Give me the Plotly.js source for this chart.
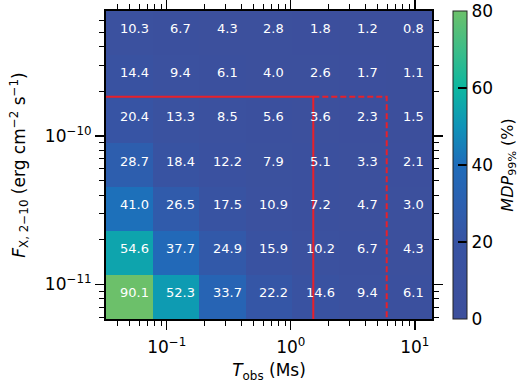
<!DOCTYPE html>
<html><head><meta charset="utf-8">
<script src="https://cdn.plot.ly/plotly-3.0.1.min.js"></script>
<style>html,body{margin:0;padding:0;background:#fff}#chart{width:521px;height:383px}</style>
</head><body><div id="chart"></div>
<script>
// Observation-time bin edges (Ms) and flux bin edges (erg cm^-2 s^-1)
const tObsEdges = [0.0324, 0.0769, 0.1824, 0.4335, 1.028, 2.443, 5.81, 13.77];
const fluxEdges = [5.83e-12, 1.156e-11, 2.29e-11, 4.53e-11, 8.97e-11, 1.78e-10, 3.52e-10, 6.97e-10];
// MDP99% values, rows from lowest flux to highest flux
const mdpRow0 = [90.1, 52.3, 33.7, 22.2, 14.6, 9.4, 6.1];
const mdpRow1 = [54.6, 37.7, 24.9, 15.9, 10.2, 6.7, 4.3];
const mdpRow2 = [41.0, 26.5, 17.5, 10.9, 7.2, 4.7, 3.0];
const mdpRow3 = [28.7, 18.4, 12.2, 7.9, 5.1, 3.3, 2.1];
const mdpRow4 = [20.4, 13.3, 8.5, 5.6, 3.6, 2.3, 1.5];
const mdpRow5 = [14.4, 9.4, 6.1, 4.0, 2.6, 1.7, 1.1];
const mdpRow6 = [10.3, 6.7, 4.3, 2.8, 1.8, 1.2, 0.8];
const mdpRows = [mdpRow0, mdpRow1, mdpRow2, mdpRow3, mdpRow4, mdpRow5, mdpRow6];

// limits drawn in red
const fluxLimit = 1.84e-10;
const tLimitSolid = 1.52;
const tLimitDashed = 5.94;

const xTickVals = [0.1, 1, 10];
const xTickText = ['10<sup>−1</sup>', '10<sup>0</sup>', '10<sup>1</sup>'];
const xMinorVals = [0.04,0.05,0.06,0.07,0.08,0.09,0.2,0.3,0.4,0.5,0.6,0.7,0.8,0.9,2,3,4,5,6,7,8,9];
const yTickVals = [1e-11, 1e-10];
const yTickText = ['10<sup>−11</sup>', '10<sup>−10</sup>'];
const yMinorVals = [6e-12,7e-12,8e-12,9e-12,2e-11,3e-11,4e-11,5e-11,6e-11,7e-11,8e-11,9e-11,2e-10,3e-10,4e-10,5e-10,6e-10];
const cbTickVals = [0, 20, 40, 60, 80];

const colorscale = [
  [0.0, '#3c4f9c'], [0.125, '#3b519f'], [0.25, '#3753a3'], [0.375, '#2c60b0'],
  [0.5, '#1f6cba'], [0.625, '#0f93b8'], [0.75, '#0cb7a0'], [0.875, '#3dbd88'], [1.0, '#6cc06a']
];

const FONT = 'DejaVu Sans, sans-serif';

const heat = {
  type: 'heatmap', x: tObsEdges, y: fluxEdges, z: mdpRows,
  zmin: 0, zmax: 80, colorscale: colorscale, hoverinfo: 'skip',
  colorbar: {
    x: 1.0644, xanchor: 'left', xpad: 0, y: 0.5, yanchor: 'middle', ypad: 0,
    len: 1, lenmode: 'fraction', thickness: 14, thicknessmode: 'pixels',
    outlinewidth: 1, outlinecolor: '#222',
    tickmode: 'array', tickvals: cbTickVals, ticks: 'inside', ticklen: 9, tickwidth: 1.5, tickcolor: '#000',
    tickfont: {family: FONT, size: 17, color: '#000'}
  }
};

const lineSolid = {
  type: 'scatter', mode: 'lines', hoverinfo: 'skip', showlegend: false,
  x: [0.001, tLimitSolid, tLimitSolid], y: [fluxLimit, fluxLimit, 1e-13],
  line: {color: '#e8202a', width: 2}
};
const lineDashed = {
  type: 'scatter', mode: 'lines', hoverinfo: 'skip', showlegend: false,
  x: [tLimitSolid, tLimitDashed, tLimitDashed], y: [fluxLimit, fluxLimit, 1e-13],
  line: {color: '#e8202a', width: 2, dash: '6px,3px'}
};

const annotations = [];
for (let r = 0; r < mdpRows.length; r++) {
  const yc = (Math.log10(fluxEdges[r]) + Math.log10(fluxEdges[r + 1])) / 2;
  for (let c = 0; c < mdpRows[r].length; c++) {
    const xc = (Math.log10(tObsEdges[c]) + Math.log10(tObsEdges[c + 1])) / 2;
    annotations.push({
      x: xc, y: yc, xref: 'x', yref: 'y', showarrow: false,
      text: mdpRows[r][c].toFixed(1), xshift: 5, yshift: 4,
      font: {family: FONT, size: 13, color: '#fff'}
    });
  }
}
// colorbar title
annotations.push({
  x: 1.232, y: 0.5, xref: 'paper', yref: 'paper', xanchor: 'center', yanchor: 'middle',
  showarrow: false, textangle: -90,
  text: '<i>MDP</i><sub>99%</sub> (%)', font: {family: FONT, size: 16, color: '#000'}
});

const axisCommon = {
  type: 'log', showgrid: false, zeroline: false, showline: true, linecolor: '#000', linewidth: 2,
  mirror: 'ticks', ticks: 'outside', ticklen: 9, tickwidth: 1.5, tickcolor: '#000',
  tickfont: {family: FONT, size: 17, color: '#000'}, tickmode: 'array'
};

const layout = {
  width: 521, height: 383, margin: {l: 106, r: 89, t: 11, b: 64},
  paper_bgcolor: '#fff', plot_bgcolor: '#fff', showlegend: false,
  font: {family: FONT, color: '#000'},
  xaxis: Object.assign({}, axisCommon, {
    range: [Math.log10(tObsEdges[0]), Math.log10(tObsEdges[tObsEdges.length - 1])],
    tickvals: xTickVals, ticktext: xTickText, ticklabelstandoff: 3,
    minor: {tickmode: 'array', tickvals: xMinorVals, ticks: 'outside', ticklen: 5, tickwidth: 1, tickcolor: '#000'},
    title: {text: '<i>T</i><sub>obs</sub> (Ms)', font: {family: FONT, size: 17, color: '#000'}, standoff: 12}
  }),
  yaxis: Object.assign({}, axisCommon, {
    range: [Math.log10(fluxEdges[0]), Math.log10(fluxEdges[fluxEdges.length - 1])],
    tickvals: yTickVals, ticktext: yTickText,
    minor: {tickmode: 'array', tickvals: yMinorVals, ticks: 'outside', ticklen: 5, tickwidth: 1, tickcolor: '#000'},
    title: {text: '<i>F</i><sub>X, 2−10</sub> (erg cm<sup>−2</sup> s<sup>−1</sup>)', font: {family: FONT, size: 17, color: '#000'}, standoff: 15}
  }),
  annotations: annotations
};

Plotly.newPlot('chart', [heat, lineSolid, lineDashed], layout, {staticPlot: true, displayModeBar: false});
</script></body></html>
